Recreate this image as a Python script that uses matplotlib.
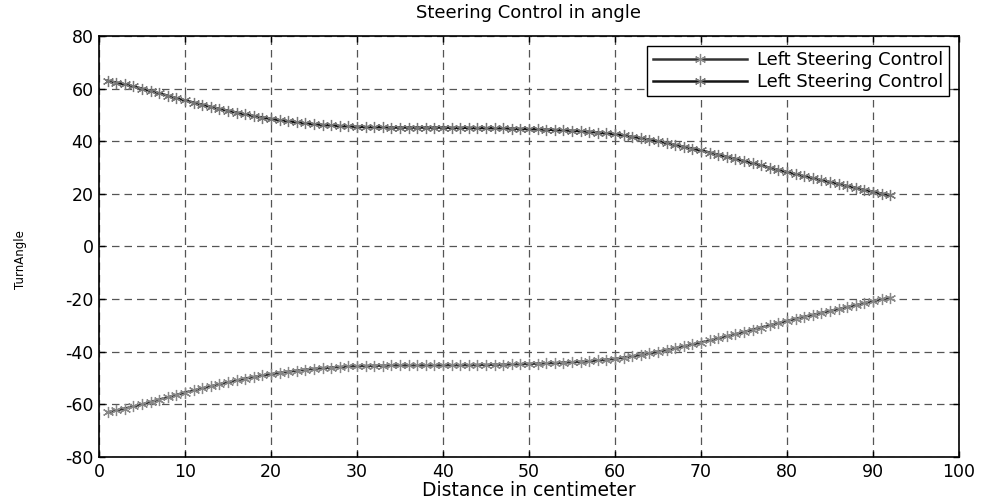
import numpy as np
import matplotlib
matplotlib.use('Agg')
import matplotlib.pyplot as plt

# distance samples (cm)
distance = np.arange(1, 93)

# upper curve (turn angle, deg)
upper_angle = [63.0, 62.3, 61.6, 60.8, 60.0, 59.1, 58.2, 57.3, 56.4, 55.5,
               54.7, 53.9, 53.1, 52.3, 51.6, 50.9, 50.2, 49.6, 49.0, 48.5,
               48.0, 47.6, 47.2, 46.8, 46.5, 46.2, 46.0, 45.8, 45.6, 45.5,
               45.4, 45.3, 45.3, 45.2, 45.2, 45.2, 45.2, 45.2, 45.2, 45.2,
               45.1, 45.1, 45.1, 45.0, 45.0, 44.9, 44.9, 44.8, 44.7, 44.6,
               44.5, 44.4, 44.3, 44.1, 44.0, 43.8, 43.6, 43.3, 43.0, 42.7,
               42.2, 41.7, 41.2, 40.6, 40.0, 39.3, 38.6, 37.9, 37.2, 36.5,
               35.7, 34.9, 34.1, 33.3, 32.5, 31.6, 30.8, 29.9, 29.1, 28.3,
               27.5, 26.7, 26.0, 25.2, 24.5, 23.8, 23.0, 22.3, 21.5, 20.8,
               20.1, 19.5]

# lower curve
lower_angle = [-63.0, -62.3, -61.6, -60.8, -60.0, -59.1, -58.2, -57.3, -56.4, -55.5,
               -54.7, -53.9, -53.1, -52.3, -51.6, -50.9, -50.2, -49.6, -49.0, -48.5,
               -48.0, -47.6, -47.2, -46.8, -46.5, -46.2, -46.0, -45.8, -45.6, -45.5,
               -45.4, -45.3, -45.3, -45.2, -45.2, -45.2, -45.2, -45.2, -45.2, -45.2,
               -45.1, -45.1, -45.1, -45.0, -45.0, -44.9, -44.9, -44.8, -44.7, -44.6,
               -44.5, -44.4, -44.3, -44.1, -44.0, -43.8, -43.6, -43.3, -43.0, -42.7,
               -42.2, -41.7, -41.2, -40.6, -40.0, -39.3, -38.6, -37.9, -37.2, -36.5,
               -35.7, -34.9, -34.1, -33.3, -32.5, -31.6, -30.8, -29.9, -29.1, -28.3,
               -27.5, -26.7, -26.0, -25.2, -24.5, -23.8, -23.0, -22.3, -21.5, -20.8,
               -20.1, -19.5]

labels = ['Left Steering Control', 'Left Steering Control']

plt.rcParams['font.family'] = ['DejaVu Sans']
plt.rcParams['axes.unicode_minus'] = False

fig = plt.figure(figsize=(9.84, 5.03), dpi=100)
ax = fig.add_axes([0.1006, 0.0915, 0.874, 0.837])

# MATLAB-style asterisk marker
ast = (6, 2, 0)
ax.plot(distance, lower_angle, '-', color='#333333', lw=1.8,
        marker=ast, ms=8, mec='#888888', mfc='none', mew=0.9, label=labels[0])
ax.plot(distance, upper_angle, '-', color='#151515', lw=1.8,
        marker=ast, ms=8, mec='#777777', mfc='none', mew=0.9, label=labels[1])

ax.set_xlim(0, 100)
ax.set_ylim(-80, 80)
ax.set_xticks(np.arange(0, 101, 10))
ax.set_yticks(np.arange(-80, 81, 20))
ax.tick_params(direction='in', top=True, right=True, labelsize=12.5, length=4, width=1, pad=4)
for s in ax.spines.values():
    s.set_linewidth(1.2)

ax.grid(True, linestyle=(0, (6, 4)), color='#555555', lw=0.9)

ax.set_title('Steering Control in angle', fontsize=13, pad=13)
ax.set_xlabel('Distance in centimeter', fontsize=13.5, labelpad=0)
ax.set_ylabel('TurnAngle', fontsize=8.5)
ax.yaxis.set_label_coords(-0.084, 0.47)

leg = ax.legend(loc='upper right', fontsize=13, frameon=True, fancybox=False,
                edgecolor='black', framealpha=1, borderpad=0.3, labelspacing=0.2,
                handlelength=5.2, handletextpad=0.6, numpoints=1,
                borderaxespad=0.55)
leg.get_frame().set_linewidth(1.0)

plt.savefig('out.png', dpi=100)
